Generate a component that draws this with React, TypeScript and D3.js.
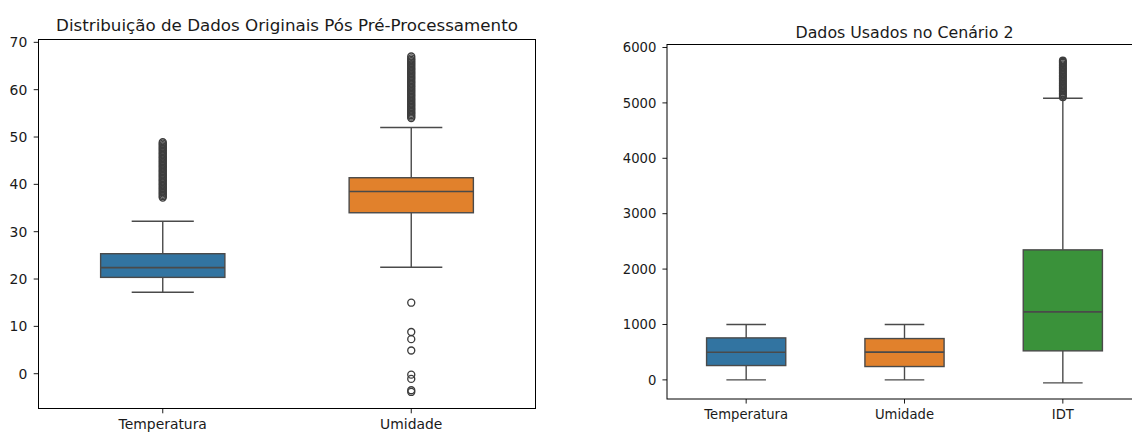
import React from "react";
import * as d3 from "d3";

// ---- left panel: original data ----
const leftCategories = ["Temperatura", "Umidade"];
// [lower whisker, Q1, median, Q3, upper whisker]
const leftStats = [
  [17.2, 20.35, 22.4, 25.35, 32.2],
  [22.5, 34.0, 38.5, 41.4, 52.0],
];
const tempOutliers = [
  37.2, 37.5, 37.8, 38.1, 38.4, 38.7, 39.0, 39.3, 39.6, 39.9, 40.2, 40.5, 40.8,
  41.1, 41.4, 41.7, 42.0, 42.3, 42.6, 42.9, 43.2, 43.5, 43.8, 44.1, 44.4, 44.7,
  45.0, 45.3, 45.6, 45.9, 46.2, 46.5, 46.8, 47.1, 47.4, 47.7, 48.0, 48.3, 48.6, 48.9,
];
const umidOutliers = [
  54.0, 54.3, 54.6, 54.9, 55.2, 55.5, 55.8, 56.1, 56.4, 56.7, 57.0, 57.3, 57.6,
  57.9, 58.2, 58.5, 58.8, 59.1, 59.4, 59.7, 60.0, 60.3, 60.6, 60.9, 61.2, 61.5,
  61.8, 62.1, 62.4, 62.7, 63.0, 63.3, 63.6, 63.9, 64.2, 64.5, 64.8, 65.1, 65.4,
  65.7, 66.0, 66.3, 66.6, 67.0,
  15.0, 8.8, 7.3, 4.9, -0.2, -1.1, -3.5, -3.85,
];
const leftOutliers = [tempOutliers, umidOutliers];
const leftTicks = [0, 10, 20, 30, 40, 50, 60, 70];

// ---- right panel: scenario 2 ----
const rightCategories = ["Temperatura", "Umidade", "IDT"];
const rightStats = [
  [0, 259, 500, 758, 1000],
  [0, 241, 502, 746, 1000],
  [-54, 524, 1228, 2347, 5085],
];
const idtOutliers = [
  5100, 5125, 5150, 5175, 5200, 5225, 5250, 5275, 5300, 5325, 5350, 5375, 5400,
  5425, 5450, 5475, 5500, 5525, 5550, 5575, 5600, 5625, 5650, 5675, 5700, 5725,
  5745, 5765,
];
const rightOutliers = [[], [], idtOutliers];
const rightTicks = [0, 1000, 2000, 3000, 4000, 5000, 6000];

const palette = ["#3274a1", "#e1812c", "#3a923a"];
const lineColor = "#4a4a4a";
const font = "'DejaVu Sans', sans-serif";

interface PanelProps {
  title: string;
  titleY: number;
  titleSize: number;
  tickSize: number;
  flierR: number;
  categories: string[];
  stats: number[][];
  outliers: number[][];
  ticks: number[];
  yDomain: [number, number];
  left: number;
  right: number;
  top: number;
  bottom: number;
}

function BoxPanel({
  title, titleY, titleSize, tickSize, flierR, categories, stats, outliers, ticks, yDomain, left, right, top, bottom,
}: PanelProps) {
  const x = d3.scaleBand().domain(categories).range([left, right]).padding(0);
  const y = d3.scaleLinear().domain(yDomain).range([bottom, top]);
  const step = x.step();
  const boxW = step * 0.5;
  const capW = step * 0.25;
  const k = tickSize / 13;

  return (
    <g>
      <text x={(left + right) / 2} y={titleY} textAnchor="middle" fontSize={titleSize} fill="#1a1a1a" fontFamily={font}>
        {title}
      </text>

      {categories.map((c, i) => {
        const cx = x(c)! + x.bandwidth() / 2;
        const [lo, q1, med, q3, hi] = stats[i];
        return (
          <g key={c}>
            <line x1={cx} x2={cx} y1={y(q3)} y2={y(hi)} stroke={lineColor} strokeWidth={1.4} />
            <line x1={cx} x2={cx} y1={y(q1)} y2={y(lo)} stroke={lineColor} strokeWidth={1.4} />
            <line x1={cx - capW / 2} x2={cx + capW / 2} y1={y(hi)} y2={y(hi)} stroke={lineColor} strokeWidth={1.4} />
            <line x1={cx - capW / 2} x2={cx + capW / 2} y1={y(lo)} y2={y(lo)} stroke={lineColor} strokeWidth={1.4} />
            <rect
              x={cx - boxW / 2}
              y={y(q3)}
              width={boxW}
              height={y(q1) - y(q3)}
              fill={palette[i]}
              stroke={lineColor}
              strokeWidth={1.4}
            />
            <line x1={cx - boxW / 2} x2={cx + boxW / 2} y1={y(med)} y2={y(med)} stroke={lineColor} strokeWidth={1.6} />
            {outliers[i].map((v, j) => (
              <circle key={j} cx={cx} cy={y(v)} r={flierR} fill="none" stroke="#3d3d3d" strokeWidth={1.35} />
            ))}
          </g>
        );
      })}

      {/* frame */}
      <rect x={left} y={top} width={right - left} height={bottom - top} fill="none" stroke="#000" strokeWidth={1} />

      {/* y ticks */}
      {ticks.map((t) => (
        <g key={t}>
          <line x1={left - 4.5 * k} x2={left} y1={y(t)} y2={y(t)} stroke="#000" strokeWidth={0.9} />
          <text x={left - 10.5 * k} y={y(t)} dy="0.36em" textAnchor="end" fontSize={tickSize} fill="#1a1a1a" fontFamily={font}>
            {t}
          </text>
        </g>
      ))}

      {/* x ticks */}
      {categories.map((c) => {
        const cx = x(c)! + x.bandwidth() / 2;
        return (
          <g key={c}>
            <line x1={cx} x2={cx} y1={bottom} y2={bottom + 4.5 * k} stroke="#000" strokeWidth={0.9} />
            <text x={cx} y={bottom + 19.5 * k} textAnchor="middle" fontSize={tickSize} fill="#1a1a1a" fontFamily={font}>
              {c}
            </text>
          </g>
        );
      })}
    </g>
  );
}

export default function App() {
  return (
    <svg
      width={1132}
      height={432}
      style={{ position: "absolute", left: 0, top: 0, background: "#fff" }}
    >
      <rect x={0} y={0} width={1132} height={432} fill="#fff" />
      <BoxPanel
        title="Distribuição de Dados Originais Pós Pré-Processamento"
        titleY={30.5}
        titleSize={16.7}
        tickSize={13.9}
        flierR={3.5}
        categories={leftCategories}
        stats={leftStats}
        outliers={leftOutliers}
        ticks={leftTicks}
        yDomain={[-7.35, 70.6]}
        left={38.5}
        right={535.5}
        top={39.5}
        bottom={408.5}
      />
      <BoxPanel
        title="Dados Usados no Cenário 2"
        titleY={37.5}
        titleSize={15.8}
        tickSize={13.2}
        flierR={3.3}
        categories={rightCategories}
        stats={rightStats}
        outliers={rightOutliers}
        ticks={rightTicks}
        yDomain={[-345, 6054]}
        left={667}
        right={1142}
        top={44.5}
        bottom={399}
      />
    </svg>
  );
}
